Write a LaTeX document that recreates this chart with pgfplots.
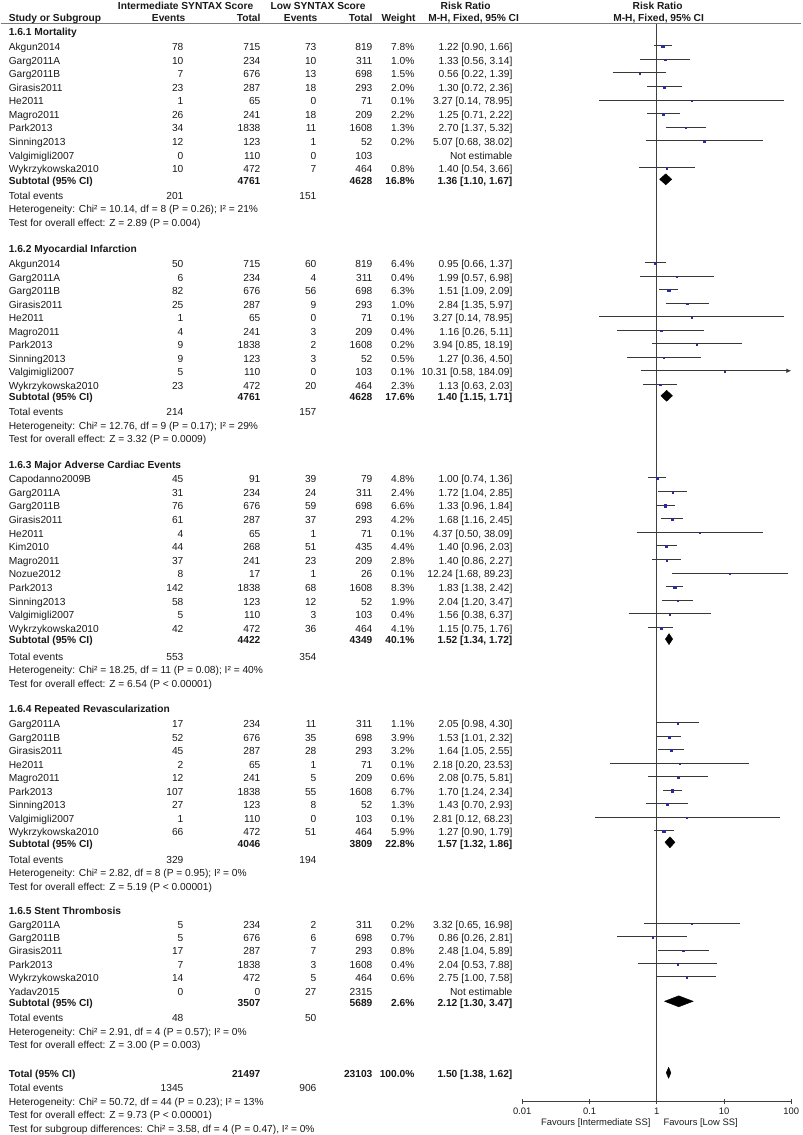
\documentclass[border=0pt]{standalone}
\usepackage{fontspec}
\setmainfont{Liberation Sans}
\usepackage{pgfplots}
\pgfplotsset{compat=1.18}
\usepackage{pgfplotstable}
\usetikzlibrary{arrows.meta}

\definecolor{sqblue}{HTML}{2B2B9C}
\definecolor{txt}{HTML}{1A1A1A}
\definecolor{ln}{HTML}{383838}
\definecolor{axcol}{HTML}{404040}
\definecolor{rule}{HTML}{7A7A7A}

% studies with an estimate: y (px row centre), risk ratio, CI, weight
\pgfplotstableread{
y rr lo hi w
47 1.22 0.90 1.66 7.8
60.55 1.33 0.56 3.14 1.0
74.1 0.56 0.22 1.39 1.5
87.65 1.30 0.72 2.36 2.0
101.2 3.27 0.14 78.95 0.1
114.75 1.25 0.71 2.22 2.2
128.3 2.70 1.37 5.32 1.3
141.85 5.07 0.68 38.02 0.2
168.95 1.40 0.54 3.66 0.8
264 0.95 0.66 1.37 6.4
277.5 1.99 0.57 6.98 0.4
291 1.51 1.09 2.09 6.3
304.5 2.84 1.35 5.97 1.0
318 3.27 0.14 78.95 0.1
331.5 1.16 0.26 5.11 0.4
345 3.94 0.85 18.19 0.2
358.5 1.27 0.36 4.50 0.5
372 10.31 0.58 184.09 0.1
385.5 1.13 0.63 2.03 2.3
479 1.00 0.74 1.36 4.8
492.6 1.72 1.04 2.85 2.4
506.2 1.33 0.96 1.84 6.6
519.8 1.68 1.16 2.45 4.2
533.4 4.37 0.50 38.09 0.1
547 1.40 0.96 2.03 4.4
560.6 1.40 0.86 2.27 2.8
574.2 12.24 1.68 89.23 0.1
587.8 1.83 1.38 2.42 8.3
601.4 2.04 1.20 3.47 1.9
615 1.56 0.38 6.37 0.4
628.6 1.15 0.75 1.76 4.1
724 2.05 0.98 4.30 1.1
737.5 1.53 1.01 2.32 3.9
751 1.64 1.05 2.55 3.2
764.5 2.18 0.20 23.53 0.1
778 2.08 0.75 5.81 0.6
791.5 1.70 1.24 2.34 6.7
805 1.43 0.70 2.93 1.3
818.5 2.81 0.12 68.23 0.1
832 1.27 0.90 1.79 5.9
924.5 3.32 0.65 16.98 0.2
937.9 0.86 0.26 2.81 0.7
951.3 2.48 1.04 5.89 0.8
964.7 2.04 0.53 7.88 0.4
978.1 2.75 1.00 7.58 0.6
}\studies

% confidence interval segments (lower, upper) per study
\pgfplotstableread{
x y
0.90 47
1.66 47
nan nan
0.56 60.55
3.14 60.55
nan nan
0.22 74.1
1.39 74.1
nan nan
0.72 87.65
2.36 87.65
nan nan
0.14 101.2
78.95 101.2
nan nan
0.71 114.75
2.22 114.75
nan nan
1.37 128.3
5.32 128.3
nan nan
0.68 141.85
38.02 141.85
nan nan
0.54 168.95
3.66 168.95
nan nan
0.66 264
1.37 264
nan nan
0.57 277.5
6.98 277.5
nan nan
1.09 291
2.09 291
nan nan
1.35 304.5
5.97 304.5
nan nan
0.14 318
78.95 318
nan nan
0.26 331.5
5.11 331.5
nan nan
0.85 345
18.19 345
nan nan
0.36 358.5
4.50 358.5
nan nan
0.63 385.5
2.03 385.5
nan nan
0.74 479
1.36 479
nan nan
1.04 492.6
2.85 492.6
nan nan
0.96 506.2
1.84 506.2
nan nan
1.16 519.8
2.45 519.8
nan nan
0.50 533.4
38.09 533.4
nan nan
0.96 547
2.03 547
nan nan
0.86 560.6
2.27 560.6
nan nan
1.68 574.2
89.23 574.2
nan nan
1.38 587.8
2.42 587.8
nan nan
1.20 601.4
3.47 601.4
nan nan
0.38 615
6.37 615
nan nan
0.75 628.6
1.76 628.6
nan nan
0.98 724
4.30 724
nan nan
1.01 737.5
2.32 737.5
nan nan
1.05 751
2.55 751
nan nan
0.20 764.5
23.53 764.5
nan nan
0.75 778
5.81 778
nan nan
1.24 791.5
2.34 791.5
nan nan
0.70 805
2.93 805
nan nan
0.12 818.5
68.23 818.5
nan nan
0.90 832
1.79 832
nan nan
0.65 924.5
16.98 924.5
nan nan
0.26 937.9
2.81 937.9
nan nan
1.04 951.3
5.89 951.3
nan nan
0.53 964.7
7.88 964.7
nan nan
1.00 978.1
7.58 978.1
}\cilines

% pooled estimates: diamonds (lower, RR, upper)
\pgfplotstableread{
x y
1.10 180.5
1.36 175
1.67 180.5
1.36 186
1.10 180.5
nan nan
1.15 397
1.40 391.5
1.71 397
1.40 402.5
1.15 397
nan nan
1.34 640.3
1.52 634.8
1.72 640.3
1.52 645.8
1.34 640.3
nan nan
1.32 843.5
1.57 838
1.86 843.5
1.57 849
1.32 843.5
nan nan
1.30 1002.5
2.12 997
3.47 1002.5
2.12 1008
1.30 1002.5
nan nan
1.38 1074
1.50 1068.5
1.62 1074
1.50 1079.5
1.38 1074
}\diamonds

\tikzset{cell/.style={inner sep=0pt, text height=7.3pt, text depth=0pt, text=txt}}
\newcommand\yoff{1.2}
\newcommand\sqoff{0.6}
\newcommand\srow[8]{%
\node[cell,anchor=west] at (axis cs:8,-#1) {#2};%
\node[cell,anchor=east] at (axis cs:183,-#1) {#3};%
\node[cell,anchor=east] at (axis cs:260,-#1) {#4};%
\node[cell,anchor=east] at (axis cs:316,-#1) {#5};%
\node[cell,anchor=east] at (axis cs:372,-#1) {#6};%
\node[cell,anchor=east] at (axis cs:414,-#1) {#7};%
\node[cell,anchor=east] at (axis cs:512,-#1) {#8};}
\newcommand\subrow[5]{\srow{#1}{\bfseries Subtotal (95\% CI)}{}{\bfseries #2}{}{\bfseries #3}{\bfseries #4}{\bfseries #5}}
\newcommand\lrow[2]{\node[cell,anchor=west] at (axis cs:8,-#1) {#2};}
\newcommand\hrow[2]{\node[cell,anchor=west] at (axis cs:8,-#1) {\bfseries #2};}
\newcommand\ctext[3]{\node[cell,anchor=center] at (axis cs:#2,-#1) {\bfseries #3};}
\newcommand\etext[3]{\node[cell,anchor=east] at (axis cs:#2,-#1) {\bfseries #3};}

\begin{document}
\fontsize{10.2pt}{12pt}\selectfont
\begin{tikzpicture}
% ---------- table text ----------
\begin{axis}[
  at={(0pt,0pt)}, anchor=south west,
  width=800pt, height=1135pt, scale only axis,
  xmin=0, xmax=800, ymin=-1135, ymax=0,
  axis lines=none, xtick=\empty, ytick=\empty,
  clip=false]
\addplot[draw=none] coordinates {(0,0) (800,-1135)};
\addplot[rule, line width=1.2pt] coordinates {(0,-23.5) (800,-23.5)};
% headers
\ctext{5.5}{185}{Intermediate SYNTAX Score}
\ctext{5.5}{317.5}{Low SYNTAX Score}
\ctext{5.5}{465}{Risk Ratio}
\ctext{5.5}{657}{Risk Ratio}
\node[cell,anchor=west] at (axis cs:8,-18) {\bfseries Study or Subgroup};
\etext{18}{185}{Events}
\etext{18}{260}{Total}
\etext{18}{317}{Events}
\etext{18}{372}{Total}
\etext{18}{415}{Weight}
\ctext{18}{473}{M-H, Fixed, 95\% CI}
\ctext{18}{658}{M-H, Fixed, 95\% CI}
% 1.6.1
\hrow{32}{1.6.1 Mortality}
\srow{47}{Akgun2014}{78}{715}{73}{819}{7.8\%}{1.22 [0.90, 1.66]}
\srow{60.55}{Garg2011A}{10}{234}{10}{311}{1.0\%}{1.33 [0.56, 3.14]}
\srow{74.1}{Garg2011B}{7}{676}{13}{698}{1.5\%}{0.56 [0.22, 1.39]}
\srow{87.65}{Girasis2011}{23}{287}{18}{293}{2.0\%}{1.30 [0.72, 2.36]}
\srow{101.2}{He2011}{1}{65}{0}{71}{0.1\%}{3.27 [0.14, 78.95]}
\srow{114.75}{Magro2011}{26}{241}{18}{209}{2.2\%}{1.25 [0.71, 2.22]}
\srow{128.3}{Park2013}{34}{1838}{11}{1608}{1.3\%}{2.70 [1.37, 5.32]}
\srow{141.85}{Sinning2013}{12}{123}{1}{52}{0.2\%}{5.07 [0.68, 38.02]}
\srow{155.4}{Valgimigli2007}{0}{110}{0}{103}{}{Not estimable}
\srow{168.95}{Wykrzykowska2010}{10}{472}{7}{464}{0.8\%}{1.40 [0.54, 3.66]}
\subrow{180.5}{4761}{4628}{16.8\%}{1.36 [1.10, 1.67]}
\srow{195.5}{Total events}{201}{}{151}{}{}{}
\lrow{209}{Heterogeneity: Chi² = 10.14, df = 8 (P = 0.26); I² = 21\%}
\lrow{222.5}{Test for overall effect: Z = 2.89 (P = 0.004)}
% 1.6.2
\hrow{248.5}{1.6.2 Myocardial Infarction}
\srow{264}{Akgun2014}{50}{715}{60}{819}{6.4\%}{0.95 [0.66, 1.37]}
\srow{277.5}{Garg2011A}{6}{234}{4}{311}{0.4\%}{1.99 [0.57, 6.98]}
\srow{291}{Garg2011B}{82}{676}{56}{698}{6.3\%}{1.51 [1.09, 2.09]}
\srow{304.5}{Girasis2011}{25}{287}{9}{293}{1.0\%}{2.84 [1.35, 5.97]}
\srow{318}{He2011}{1}{65}{0}{71}{0.1\%}{3.27 [0.14, 78.95]}
\srow{331.5}{Magro2011}{4}{241}{3}{209}{0.4\%}{1.16 [0.26, 5.11]}
\srow{345}{Park2013}{9}{1838}{2}{1608}{0.2\%}{3.94 [0.85, 18.19]}
\srow{358.5}{Sinning2013}{9}{123}{3}{52}{0.5\%}{1.27 [0.36, 4.50]}
\srow{372}{Valgimigli2007}{5}{110}{0}{103}{0.1\%}{10.31 [0.58, 184.09]}
\srow{385.5}{Wykrzykowska2010}{23}{472}{20}{464}{2.3\%}{1.13 [0.63, 2.03]}
\subrow{397}{4761}{4628}{17.6\%}{1.40 [1.15, 1.71]}
\srow{412}{Total events}{214}{}{157}{}{}{}
\lrow{425.5}{Heterogeneity: Chi² = 12.76, df = 9 (P = 0.17); I² = 29\%}
\lrow{439}{Test for overall effect: Z = 3.32 (P = 0.0009)}
% 1.6.3
\hrow{465}{1.6.3 Major Adverse Cardiac Events}
\srow{479}{Capodanno2009B}{45}{91}{39}{79}{4.8\%}{1.00 [0.74, 1.36]}
\srow{492.6}{Garg2011A}{31}{234}{24}{311}{2.4\%}{1.72 [1.04, 2.85]}
\srow{506.2}{Garg2011B}{76}{676}{59}{698}{6.6\%}{1.33 [0.96, 1.84]}
\srow{519.8}{Girasis2011}{61}{287}{37}{293}{4.2\%}{1.68 [1.16, 2.45]}
\srow{533.4}{He2011}{4}{65}{1}{71}{0.1\%}{4.37 [0.50, 38.09]}
\srow{547}{Kim2010}{44}{268}{51}{435}{4.4\%}{1.40 [0.96, 2.03]}
\srow{560.6}{Magro2011}{37}{241}{23}{209}{2.8\%}{1.40 [0.86, 2.27]}
\srow{574.2}{Nozue2012}{8}{17}{1}{26}{0.1\%}{12.24 [1.68, 89.23]}
\srow{587.8}{Park2013}{142}{1838}{68}{1608}{8.3\%}{1.83 [1.38, 2.42]}
\srow{601.4}{Sinning2013}{58}{123}{12}{52}{1.9\%}{2.04 [1.20, 3.47]}
\srow{615}{Valgimigli2007}{5}{110}{3}{103}{0.4\%}{1.56 [0.38, 6.37]}
\srow{628.6}{Wykrzykowska2010}{42}{472}{36}{464}{4.1\%}{1.15 [0.75, 1.76]}
\subrow{640.3}{4422}{4349}{40.1\%}{1.52 [1.34, 1.72]}
\srow{656.5}{Total events}{553}{}{354}{}{}{}
\lrow{670}{Heterogeneity: Chi² = 18.25, df = 11 (P = 0.08); I² = 40\%}
\lrow{683.5}{Test for overall effect: Z = 6.54 (P < 0.00001)}
% 1.6.4
\hrow{708.5}{1.6.4 Repeated Revascularization}
\srow{724}{Garg2011A}{17}{234}{11}{311}{1.1\%}{2.05 [0.98, 4.30]}
\srow{737.5}{Garg2011B}{52}{676}{35}{698}{3.9\%}{1.53 [1.01, 2.32]}
\srow{751}{Girasis2011}{45}{287}{28}{293}{3.2\%}{1.64 [1.05, 2.55]}
\srow{764.5}{He2011}{2}{65}{1}{71}{0.1\%}{2.18 [0.20, 23.53]}
\srow{778}{Magro2011}{12}{241}{5}{209}{0.6\%}{2.08 [0.75, 5.81]}
\srow{791.5}{Park2013}{107}{1838}{55}{1608}{6.7\%}{1.70 [1.24, 2.34]}
\srow{805}{Sinning2013}{27}{123}{8}{52}{1.3\%}{1.43 [0.70, 2.93]}
\srow{818.5}{Valgimigli2007}{1}{110}{0}{103}{0.1\%}{2.81 [0.12, 68.23]}
\srow{832}{Wykrzykowska2010}{66}{472}{51}{464}{5.9\%}{1.27 [0.90, 1.79]}
\subrow{843.5}{4046}{3809}{22.8\%}{1.57 [1.32, 1.86]}
\srow{859.5}{Total events}{329}{}{194}{}{}{}
\lrow{873}{Heterogeneity: Chi² = 2.82, df = 8 (P = 0.95); I² = 0\%}
\lrow{886.5}{Test for overall effect: Z = 5.19 (P < 0.00001)}
% 1.6.5
\hrow{911}{1.6.5 Stent Thrombosis}
\srow{924.5}{Garg2011A}{5}{234}{2}{311}{0.2\%}{3.32 [0.65, 16.98]}
\srow{937.9}{Garg2011B}{5}{676}{6}{698}{0.7\%}{0.86 [0.26, 2.81]}
\srow{951.3}{Girasis2011}{17}{287}{7}{293}{0.8\%}{2.48 [1.04, 5.89]}
\srow{964.7}{Park2013}{7}{1838}{3}{1608}{0.4\%}{2.04 [0.53, 7.88]}
\srow{978.1}{Wykrzykowska2010}{14}{472}{5}{464}{0.6\%}{2.75 [1.00, 7.58]}
\srow{991.5}{Yadav2015}{0}{0}{27}{2315}{}{Not estimable}
\subrow{1002.5}{3507}{5689}{2.6\%}{2.12 [1.30, 3.47]}
\srow{1018}{Total events}{48}{}{50}{}{}{}
\lrow{1031.5}{Heterogeneity: Chi² = 2.91, df = 4 (P = 0.57); I² = 0\%}
\lrow{1045}{Test for overall effect: Z = 3.00 (P = 0.003)}
% overall
\srow{1074}{\bfseries Total (95\% CI)}{}{\bfseries 21497}{}{\bfseries 23103}{\bfseries 100.0\%}{\bfseries 1.50 [1.38, 1.62]}
\srow{1088}{Total events}{1345}{}{906}{}{}{}
\lrow{1101.5}{Heterogeneity: Chi² = 50.72, df = 44 (P = 0.23); I² = 13\%}
\lrow{1115}{Test for overall effect: Z = 9.73 (P < 0.00001)}
\lrow{1129}{Test for subgroup differences: Chi² = 3.58, df = 4 (P = 0.47), I² = 0\%}
% axis captions
\node[cell,anchor=east,font=\fontsize{9.4pt}{11pt}\selectfont] at (axis cs:650,-1122) {Favours [Intermediate SS]};
\node[cell,anchor=west,font=\fontsize{9.4pt}{11pt}\selectfont] at (axis cs:662.7,-1122) {Favours [Low SS]};
\end{axis}
% ---------- forest plot ----------
\begin{axis}[
  at={(521.7pt,33.3pt)}, anchor=south west,
  width=269pt, height=1077.7pt, scale only axis,
  xmode=log, xmin=0.01, xmax=100,
  ymin=-1101.7, ymax=-24,
  axis x line=bottom, axis y line=none, ytick=\empty,
  x axis line style={-, draw=axcol, line width=0.9pt},
  xtick={0.01,0.1,1,10,100}, xticklabels={0.01,0.1,1,10,100},
  xminorticks=false,
  tick align=center, major tick length=5pt,
  every tick/.style={draw=axcol, line width=0.9pt},
  xticklabel style={font=\fontsize{9.4pt}{11pt}\selectfont, text=txt},
  clip=false, unbounded coords=jump, filter discard warning=false]
\addplot[axcol, line width=0.9pt] coordinates {(1,-24) (1,-1101.7)};
\addplot[ln, line width=0.8pt] table[x=x, y expr=-\thisrow{y}+\yoff] {\cilines};
\addplot[ln, line width=0.8pt, -{Latex[length=5pt,width=4.5pt]}] coordinates {(0.58,-372+\yoff) (100,-372+\yoff)};
\addplot[scatter, only marks, mark=square*,
  scatter/use mapped color={draw=sqblue, fill=sqblue},
  visualization depends on={\thisrow{w} \as \wt},
  scatter/@pre marker code/.append style={/tikz/mark size=0.6+0.09*\wt}]
  table[x=rr, y expr=-\thisrow{y}+\sqoff] {\studies};
\addplot[draw=black, fill=black, line width=0.4pt] table[x=x, y expr=-\thisrow{y}+\yoff] {\diamonds};
\end{axis}
\end{tikzpicture}
\end{document}
